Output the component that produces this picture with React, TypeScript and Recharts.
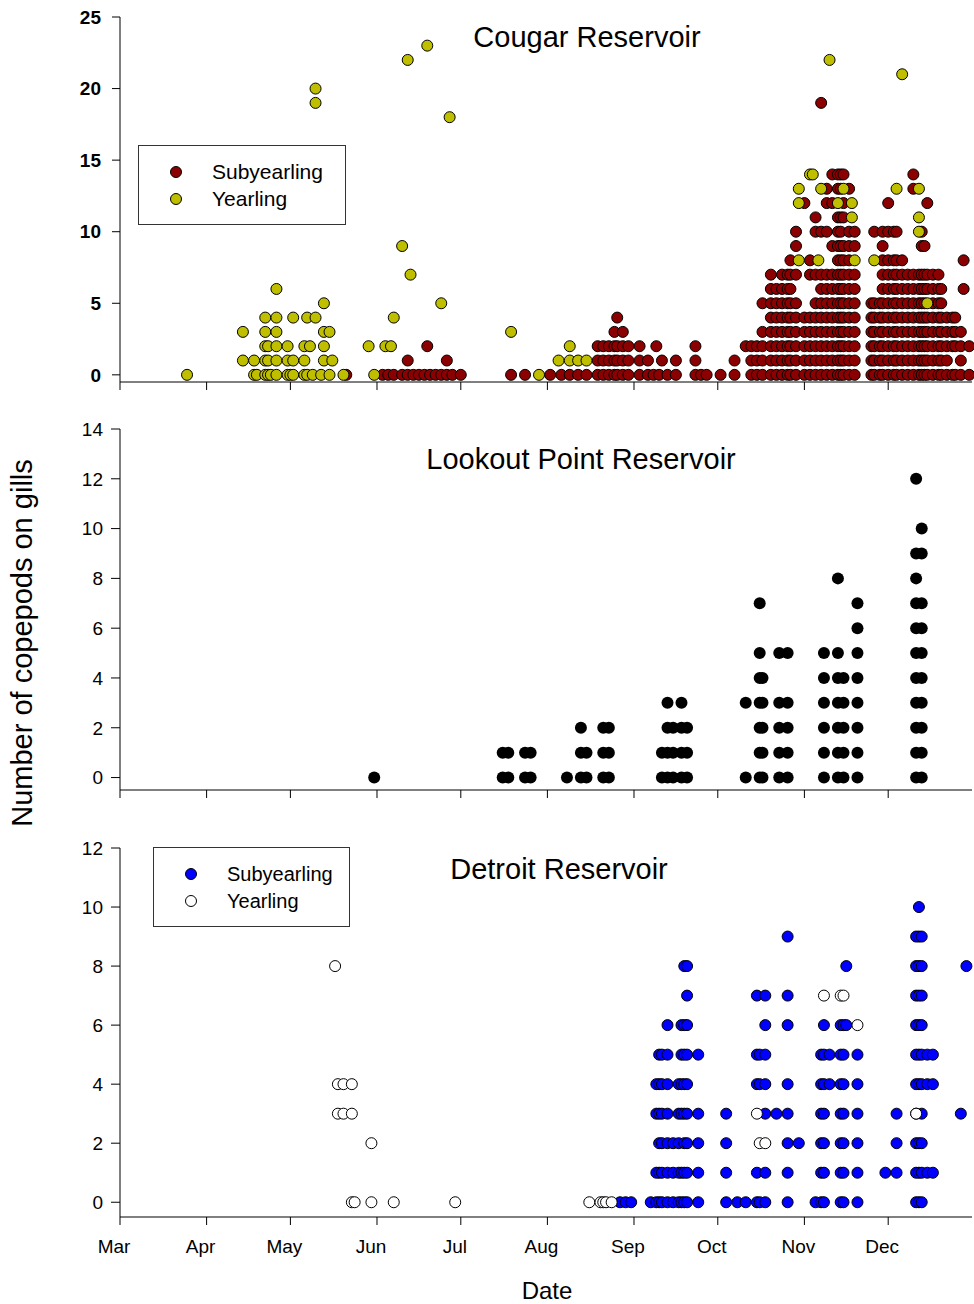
import React from 'react';
import { ScatterChart, Scatter, XAxis, YAxis } from 'recharts';

// x = days since Mar 1, y = copepods counted; each entry is [day, counts seen that day]
const monthTicks = [0, 31, 61, 92, 122, 153, 184, 214, 245, 275];
const monthLabels = ['Mar', 'Apr', 'May', 'Jun', 'Jul', 'Aug', 'Sep', 'Oct', 'Nov', 'Dec'];

const cougarSub: [number, number[]][] = [
  [81, [0]], [94, [0]], [96, [0]], [98, [0]], [101, [0]], [103, [0, 1]], [105, [0]], [107, [0]], [109, [0]],
  [110, [2]], [111, [0]], [113, [0]], [115, [0]], [117, [0, 1]], [119, [0]], [122, [0]],
  [140, [0]], [145, [0]], [154, [0]], [158, [0]], [161, [0]], [164, [0]], [167, [0]],
  [171, [0, 1, 2]], [173, [0, 1, 2]], [175, [0, 1, 2]], [177, [0, 1, 2, 3]], [178, [0, 1, 2, 4]], [180, [0, 1, 2, 3]],
  [182, [0, 1, 2]], [186, [0, 1, 2]], [189, [0, 1]], [191, [0]], [192, [2]], [193, [0]], [194, [1]], [196, [0]],
  [199, [0, 1]], [206, [0, 1, 2]], [208, [0]], [210, [0]], [215, [0]], [220, [0, 1]],
  [224, [2]], [226, [0, 1, 2]], [228, [0, 1, 2]], [230, [0, 1, 2, 3, 5]],
  [233, [0, 1, 2, 3, 4, 5, 6, 7]], [235, [0, 1, 2, 3, 4, 5, 6]], [237, [0, 1, 2, 3, 4, 5, 6, 7]],
  [239, [0, 1, 2, 3, 4, 5, 6, 7]], [240, [0, 1, 2, 3, 4, 5, 6, 7, 8]], [242, [0, 1, 2, 3, 4, 5, 7, 9, 10]],
  [245, [0, 1, 2, 3, 4, 12]], [247, [0, 1, 2, 3, 4, 7, 8]], [249, [0, 1, 2, 3, 4, 5, 7, 10, 11]],
  [251, [0, 1, 2, 3, 4, 5, 6, 7, 10, 19]], [253, [0, 1, 2, 3, 4, 5, 6, 7, 10, 12, 13]],
  [255, [0, 1, 2, 3, 4, 5, 6, 7, 9, 12, 14]], [257, [0, 1, 2, 3, 4, 5, 6, 7, 8, 9, 10, 11, 13, 14]],
  [258, [0, 1, 2, 3, 4, 5, 6, 7, 8, 9, 10, 11, 13, 14]], [259, [0, 1, 2, 3, 4, 5, 6, 7, 8, 9, 11, 12, 14]],
  [261, [0, 1, 2, 3, 4, 5, 6, 7, 8, 9, 10, 13]], [263, [0, 1, 2, 3, 4, 5, 6, 7, 9, 10]],
  [269, [0, 1, 2, 3, 4, 5]], [270, [0, 1, 2, 3, 4, 5, 10]], [272, [0, 1, 2, 3, 4, 5]],
  [273, [0, 1, 2, 3, 4, 5, 6, 7, 8, 9, 10]], [275, [0, 1, 2, 3, 4, 5, 6, 7, 8, 10, 12]],
  [277, [0, 1, 2, 3, 4, 5, 6, 7, 8, 10]], [278, [0, 1, 2, 3, 4, 5, 6, 7, 8, 10]], [280, [0, 1, 2, 3, 4, 5, 6, 7, 8]],
  [282, [0, 1, 2, 3, 4, 5, 6, 7]], [284, [0, 1, 2, 3, 4, 5, 6, 7, 13, 14]], [286, [0, 1, 2, 3, 4, 5, 6, 7]],
  [287, [0, 1, 2, 3, 4, 5, 6, 7, 9, 10]], [288, [0, 1, 2, 3, 4, 5, 6, 7, 9]], [289, [0, 1, 2, 3, 4, 6, 7, 12]],
  [291, [0, 1, 2, 3, 4, 5, 6, 7]], [293, [0, 1, 2, 3, 4, 5, 6, 7]], [294, [0, 1, 2, 3, 4, 5, 6]],
  [296, [0, 1, 2, 3, 4]], [298, [0, 2, 3, 4]], [299, [0, 2, 3, 4]], [301, [0, 1, 2, 3]], [302, [6, 8]], [304, [0, 2]],
];

const cougarYear: [number, number[]][] = [
  [24, [0]], [44, [1, 3]], [48, [0, 1]], [49, [0]], [52, [0, 1, 2, 3, 4]], [53, [0, 1, 2]], [54, [0]],
  [56, [0, 1, 2, 3, 4, 6]], [60, [0, 1, 2]], [61, [0]], [62, [0, 1, 4]], [66, [0, 1, 2]], [67, [0, 4]], [68, [2]],
  [69, [0]], [70, [4, 19, 20]], [72, [0]], [73, [1, 2, 3, 5]], [75, [0, 3]], [76, [1]], [80, [0]],
  [89, [2]], [91, [0]], [95, [2]], [97, [2]], [98, [4]], [101, [9]], [103, [22]], [104, [7]], [110, [23]],
  [115, [5]], [118, [18]], [140, [3]], [150, [0]], [157, [1]], [161, [1, 2]], [164, [1]], [167, [1]],
  [243, [8, 12, 13]], [247, [14]], [248, [14]], [250, [8]], [251, [13]], [254, [22]], [257, [12]], [259, [13]],
  [262, [11, 12]], [263, [8]], [270, [8]], [278, [13]], [280, [21]], [286, [10, 11, 13]], [289, [5]],
];

const lookout: [number, number[]][] = [
  [91, [0]], [137, [0, 1]], [139, [0, 1]], [145, [0, 1]], [147, [0, 1]],
  [160, [0]], [165, [0, 1, 2]], [167, [0, 1]], [173, [0, 1, 2]], [175, [0, 1, 2]],
  [194, [0, 1]], [196, [0, 1, 2, 3]], [198, [0, 1, 2]], [201, [0, 1, 2, 3]], [203, [0, 1, 2]],
  [224, [0, 3]], [229, [0, 1, 2, 3, 4, 5, 7]], [230, [0, 1, 2, 3, 4]], [236, [0, 1, 2, 3, 5]], [239, [0, 1, 2, 3, 5]],
  [252, [0, 1, 2, 3, 4, 5]], [257, [0, 1, 2, 3, 4, 5, 8]], [259, [0, 1, 2, 3, 4]], [264, [0, 1, 2, 3, 4, 5, 6, 7]],
  [285, [0, 1, 2, 3, 4, 5, 6, 7, 8, 9, 12]], [287, [0, 1, 2, 3, 4, 5, 6, 7, 9, 10]],
];

const detroitSub: [number, number[]][] = [
  [179, [0]], [181, [0]], [183, [0]], [190, [0]], [192, [0, 1, 3, 4]], [193, [0, 1, 2, 3, 4, 5]],
  [194, [0, 1, 2, 3, 4, 5]], [196, [0, 1, 2, 3, 4, 5, 6]], [198, [0, 1, 2]], [200, [0, 1, 2, 3, 4]],
  [201, [0, 1, 3, 4, 5, 6]], [202, [0, 1, 2, 3, 4, 5, 6, 8]], [203, [0, 1, 2, 3, 4, 5, 6, 7, 8]],
  [207, [0, 1, 2, 3, 5]], [217, [0, 1, 2, 3]], [221, [0]], [224, [0]], [228, [0, 1, 4, 5, 7]], [229, [0, 4, 5]],
  [231, [0, 1, 3, 4, 5, 6, 7]], [235, [3]], [239, [0, 1, 2, 3, 4, 6, 7, 9]], [243, [2]],
  [249, [0]], [251, [0, 1, 2, 3, 4, 5]], [252, [0, 1, 2, 3, 4, 5, 6]], [254, [4, 5]],
  [258, [0, 1, 2, 3, 4, 5, 6]], [259, [0, 1, 2, 3, 4, 5, 6]], [260, [6, 8]], [264, [0, 1, 2, 3, 4, 5]],
  [274, [1]], [278, [1, 2, 3]], [285, [0, 1, 2, 3, 4, 5, 6, 7, 8, 9]], [286, [0, 1, 2, 4, 5, 6, 7, 8, 9, 10]],
  [287, [0, 1, 2, 3, 4, 5, 6, 7, 8, 9]], [289, [1, 4, 5]], [291, [1, 4, 5]], [301, [3]], [303, [8]],
];

const detroitYear: [number, number[]][] = [
  [77, [8]], [78, [3, 4]], [80, [3, 4]], [83, [0, 3, 4]], [84, [0]], [90, [0, 2]], [98, [0]], [120, [0]],
  [168, [0]], [172, [0]], [173, [0]], [174, [0]], [176, [0]],
  [228, [3]], [229, [2]], [231, [2]], [252, [7]], [258, [7]], [259, [7]], [264, [6]], [285, [3]],
];

const toPoints = (cols: [number, number[]][]) =>
  cols.flatMap(([day, counts]) => counts.map((count) => ({ day, count })));

const FONT = '"Liberation Sans", Arial, Helvetica, sans-serif';

const dot = (fill: string, r = 5.5, stroke = '#000') => (props: any) => (
  <circle cx={props.cx} cy={props.cy} r={r} fill={fill} stroke={stroke} strokeWidth={1} />
);

const NoTick = () => <g />;

const MonthTick = ({ x, y, payload }: any) => (
  <text x={x - 6} y={y + 26} textAnchor="middle" fontSize={19} fill="#000" fontFamily={FONT}>
    {monthLabels[monthTicks.indexOf(payload.value)]}
  </text>
);

const axisStroke = { stroke: '#000', strokeWidth: 1 };

const Title = ({ text, x, y }: { text: string; x: number; y: number }) => (
  <div
    style={{
      position: 'absolute', left: x, top: y, transform: 'translate(-50%, -50%)',
      fontSize: 29, whiteSpace: 'nowrap', color: '#000',
    }}
  >
    {text}
  </div>
);

const LegendBox = ({
  left, top, width, items, fontSize, markX,
}: {
  left: number; top: number; width: number; fontSize: number; markX: number;
  items: { label: string; fill: string; y: number }[];
}) => (
  <div style={{ position: 'absolute', left, top, width, height: 80, border: '1px solid #333', boxSizing: 'border-box' }}>
    {items.map((it) => (
      <React.Fragment key={it.label}>
        <svg style={{ position: 'absolute', left: markX - 7, top: it.y - 7 }} width={14} height={14}>
          <circle cx={7} cy={7} r={5.5} fill={it.fill} stroke="#000" strokeWidth={1} />
        </svg>
        <div style={{ position: 'absolute', left: markX + 36, top: it.y, transform: 'translateY(-50%)', fontSize, whiteSpace: 'nowrap' }}>
          {it.label}
        </div>
      </React.Fragment>
    ))}
  </div>
);

export default function App() {
  return (
    <div style={{ position: 'absolute', left: 0, top: 0, width: 974, height: 1304, background: '#fff', fontFamily: FONT }}>
      {/* Cougar */}
      <div style={{ position: 'absolute', left: 0, top: 0 }}>
        <ScatterChart width={974} height={400} margin={{ top: 17, right: 2, bottom: 0, left: 0 }}>
          <XAxis type="number" dataKey="day" domain={[0, 305]} ticks={monthTicks} interval={0}
            height={18} tick={NoTick} tickSize={8} axisLine={axisStroke} tickLine={axisStroke} />
          <YAxis type="number" dataKey="count" domain={[-0.5, 25]} ticks={[0, 5, 10, 15, 20, 25]} interval={0}
            width={120} tickSize={8} tickMargin={11} axisLine={axisStroke} tickLine={axisStroke}
            tick={{ fill: '#000', fontSize: 19, fontWeight: 'bold', fontFamily: FONT }} />
          <Scatter data={toPoints(cougarSub)} shape={dot('#8B0000')} isAnimationActive={false} />
          <Scatter data={toPoints(cougarYear)} shape={dot('#BFBF00')} isAnimationActive={false} />
        </ScatterChart>
      </div>
      {/* Lookout Point */}
      <div style={{ position: 'absolute', left: 0, top: 400 }}>
        <ScatterChart width={974} height={410} margin={{ top: 29, right: 2, bottom: 0, left: 0 }}>
          <XAxis type="number" dataKey="day" domain={[0, 305]} ticks={monthTicks} interval={0}
            height={20} tick={NoTick} tickSize={8} axisLine={axisStroke} tickLine={axisStroke} />
          <YAxis type="number" dataKey="count" domain={[-0.5, 14]} ticks={[0, 2, 4, 6, 8, 10, 12, 14]} interval={0}
            width={120} tickSize={9} tickMargin={8} axisLine={axisStroke} tickLine={axisStroke}
            tick={{ fill: '#000', fontSize: 19, fontFamily: FONT }} />
          <Scatter data={toPoints(lookout)} shape={dot('#000', 6, 'none')} isAnimationActive={false} />
        </ScatterChart>
      </div>
      {/* Detroit */}
      <div style={{ position: 'absolute', left: 0, top: 810 }}>
        <ScatterChart width={974} height={494} margin={{ top: 38, right: 2, bottom: 0, left: 0 }}>
          <XAxis type="number" dataKey="day" domain={[0, 305]} ticks={monthTicks} interval={0}
            height={87} tick={MonthTick} tickSize={8} axisLine={axisStroke} tickLine={axisStroke} />
          <YAxis type="number" dataKey="count" domain={[-0.5, 12]} ticks={[0, 2, 4, 6, 8, 10, 12]} interval={0}
            width={120} tickSize={9} tickMargin={8} axisLine={axisStroke} tickLine={axisStroke}
            tick={{ fill: '#000', fontSize: 19, fontFamily: FONT }} />
          <Scatter data={toPoints(detroitSub)} shape={dot('#0000FF')} isAnimationActive={false} />
          <Scatter data={toPoints(detroitYear)} shape={dot('#FFFFFF')} isAnimationActive={false} />
        </ScatterChart>
      </div>

      <Title text="Cougar Reservoir" x={587} y={37} />
      <Title text="Lookout Point Reservoir" x={581} y={459} />
      <Title text="Detroit Reservoir" x={559} y={869} />

      <LegendBox left={138} top={145} width={208} fontSize={21} markX={37}
        items={[{ label: 'Subyearling', fill: '#8B0000', y: 26 }, { label: 'Yearling', fill: '#BFBF00', y: 53 }]} />
      <LegendBox left={153} top={847} width={197} fontSize={20} markX={37}
        items={[{ label: 'Subyearling', fill: '#0000FF', y: 26 }, { label: 'Yearling', fill: '#FFFFFF', y: 53 }]} />

      <div style={{ position: 'absolute', left: 22, top: 643, transform: 'translate(-50%, -50%) rotate(-90deg)', fontSize: 29, whiteSpace: 'nowrap' }}>
        Number of copepods on gills
      </div>
      <div style={{ position: 'absolute', left: 547, top: 1291, transform: 'translate(-50%, -50%)', fontSize: 24 }}>
        Date
      </div>
    </div>
  );
}
